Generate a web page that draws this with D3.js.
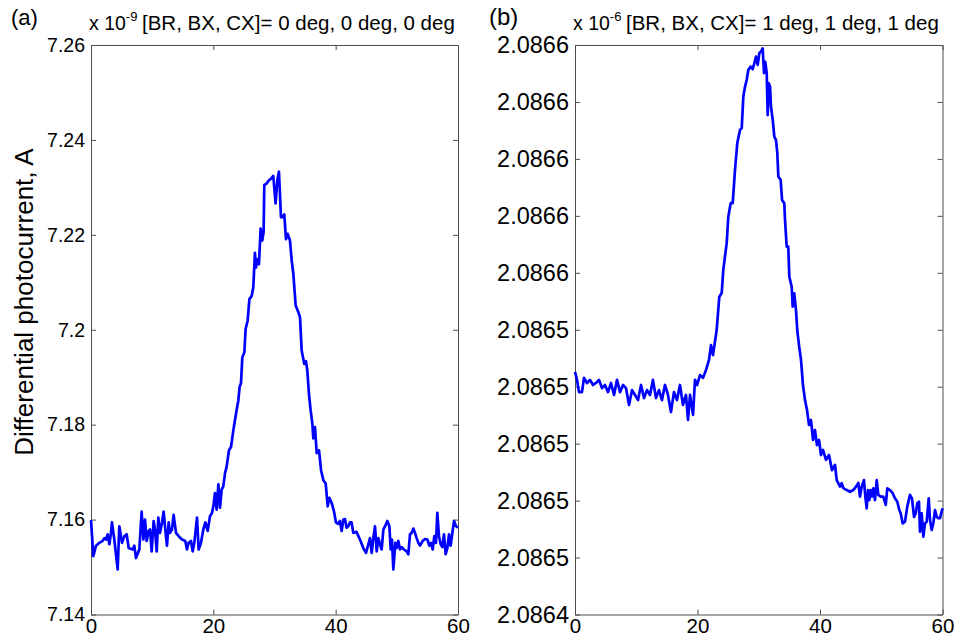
<!DOCTYPE html>
<html><head><meta charset="utf-8">
<script src="https://cdn.jsdelivr.net/npm/d3@7"></script>
<style>
body{margin:0;background:#fff;}
svg text{font-family:"Liberation Sans",Arial,Helvetica,sans-serif;fill:#000;}
</style></head><body>
<svg id="chart" width="954" height="642"></svg>
<script>
// Scan position (x) and differential photocurrent for two angle settings
const seriesA = [[0,7.1599],[0.38,7.1523],[0.82,7.1545],[1.36,7.1551],[1.91,7.1555],[2.18,7.1561],[2.45,7.1558],[2.72,7.1569],[3.0,7.1548],[3.27,7.1572],[3.43,7.1594],[3.81,7.1558],[4.36,7.1495],[4.63,7.1586],[5.07,7.1551],[5.45,7.1565],[5.83,7.1569],[6.16,7.1540],[6.81,7.1537],[7.08,7.1545],[7.36,7.1519],[7.9,7.1537],[8.28,7.1617],[8.56,7.1558],[8.83,7.1600],[9.1,7.1555],[9.43,7.1576],[9.65,7.1579],[9.92,7.1533],[10.24,7.1597],[10.46,7.1579],[10.74,7.1533],[11.01,7.1604],[11.28,7.1572],[11.61,7.1594],[11.88,7.1617],[12.15,7.1579],[12.42,7.1545],[12.7,7.1594],[12.91,7.1572],[13.24,7.1579],[13.51,7.1610],[13.9,7.1572],[14.33,7.1565],[14.88,7.1558],[15.42,7.1555],[15.69,7.1537],[15.97,7.1551],[16.35,7.1555],[16.62,7.1533],[16.89,7.1551],[17.33,7.1604],[17.6,7.1537],[17.98,7.1551],[18.36,7.1579],[18.69,7.1594],[19.07,7.1576],[19.45,7.1607],[19.78,7.1614],[20.0,7.1628],[20.27,7.1656],[20.54,7.1621],[20.82,7.1674],[21.09,7.1625],[21.36,7.1663],[21.63,7.1670],[21.9,7.1697],[22.18,7.1712],[22.56,7.1746],[22.89,7.1753],[23.27,7.1788],[23.54,7.1810],[23.81,7.1831],[24.09,7.1851],[24.3,7.1880],[24.52,7.1887],[24.74,7.1942],[25.07,7.1952],[25.28,7.2002],[25.61,7.2019],[25.9,7.2065],[26.27,7.2071],[26.53,7.2089],[26.8,7.2162],[26.97,7.2131],[27.24,7.2149],[27.46,7.2138],[27.73,7.2213],[28.0,7.2188],[28.22,7.2206],[28.33,7.2305],[28.71,7.2308],[29.08,7.2315],[29.41,7.2318],[29.8,7.2324],[30.18,7.2266],[30.46,7.2315],[30.73,7.2333],[31.06,7.2237],[31.33,7.2237],[31.6,7.2243],[31.88,7.2191],[32.15,7.2202],[32.53,7.2188],[32.81,7.2146],[33.08,7.2118],[33.46,7.2051],[33.9,7.2037],[34.17,7.2026],[34.44,7.1957],[34.55,7.1949],[34.87,7.1928],[35.15,7.1934],[35.37,7.1913],[35.64,7.1864],[35.91,7.1830],[36.19,7.1802],[36.35,7.1771],[36.62,7.1795],[36.9,7.1740],[37.28,7.1746],[37.61,7.1704],[37.99,7.1683],[38.37,7.1676],[38.7,7.1628],[38.97,7.1646],[39.35,7.1635],[39.73,7.1617],[40.05,7.1594],[40.4,7.1591],[40.7,7.1597],[40.98,7.1576],[41.25,7.1600],[41.52,7.1601],[41.79,7.1583],[42.06,7.1586],[42.33,7.1594],[42.6,7.1594],[42.88,7.1572],[43.42,7.1574],[43.97,7.1558],[44.52,7.1540],[44.96,7.1530],[45.34,7.1548],[45.61,7.1561],[45.89,7.1530],[46.16,7.1561],[46.43,7.1586],[46.71,7.1533],[46.98,7.1561],[47.25,7.1548],[47.52,7.1537],[47.8,7.1579],[48.18,7.1589],[48.45,7.1597],[48.78,7.1586],[49.0,7.1537],[49.21,7.1558],[49.43,7.1495],[49.76,7.1551],[49.97,7.1540],[50.25,7.1555],[50.52,7.1537],[50.79,7.1542],[51.17,7.1537],[51.61,7.1533],[51.88,7.1527],[52.15,7.1569],[52.43,7.1572],[52.7,7.1581],[52.97,7.1572],[53.24,7.1561],[53.52,7.1551],[53.79,7.1545],[54.22,7.1555],[54.6,7.1559],[54.99,7.1558],[55.31,7.1545],[55.59,7.1551],[55.86,7.1537],[56.13,7.1565],[56.4,7.1551],[56.62,7.1614],[56.89,7.1565],[57.17,7.1548],[57.44,7.1542],[57.71,7.1569],[57.98,7.1527],[58.26,7.1540],[58.53,7.1569],[58.8,7.1545],[59.08,7.1572],[59.35,7.1597],[59.68,7.1586],[60.0,7.1583]];

const seriesB = [[0,2.0865252],[0.33,2.0865224],[0.65,2.0865181],[1.14,2.0865181],[1.47,2.0865231],[1.96,2.0865213],[2.45,2.0865224],[2.94,2.0865206],[3.43,2.0865213],[3.92,2.0865224],[4.41,2.0865195],[4.9,2.0865206],[5.39,2.0865181],[5.88,2.0865213],[6.37,2.0865171],[6.86,2.0865224],[7.35,2.0865181],[7.84,2.0865206],[8.33,2.0865195],[8.82,2.0865136],[9.31,2.0865188],[9.8,2.0865171],[10.29,2.0865153],[10.78,2.0865206],[11.27,2.086516],[11.76,2.0865188],[12.24,2.0865171],[12.73,2.0865224],[13.22,2.086516],[13.71,2.0865188],[14.2,2.0865153],[14.69,2.0865206],[15.18,2.0865171],[15.67,2.0865111],[16.16,2.0865181],[16.65,2.0865153],[17.14,2.0865206],[17.63,2.0865136],[18.12,2.0865171],[18.45,2.0865083],[18.78,2.0865171],[19.27,2.0865101],[19.59,2.0865224],[19.92,2.0865206],[20.41,2.0865241],[20.9,2.0865231],[21.39,2.0865259],[21.88,2.0865294],[22.2,2.0865346],[22.53,2.0865311],[23.13,2.0865399],[23.56,2.0865516],[23.95,2.0865529],[24.21,2.086561],[24.77,2.0865705],[25.03,2.0865797],[25.42,2.0865845],[25.75,2.0865845],[26.12,2.0865961],[26.5,2.0866056],[26.94,2.0866102],[27.22,2.0866108],[27.48,2.0866218],[27.76,2.0866254],[28.03,2.0866277],[28.29,2.0866312],[28.68,2.0866324],[29.01,2.0866315],[29.27,2.0866336],[29.55,2.0866359],[29.83,2.086633],[30.09,2.0866371],[30.37,2.0866377],[30.64,2.0866388],[30.86,2.0866301],[31.07,2.0866341],[31.3,2.0866301],[31.46,2.0866154],[31.62,2.0866266],[31.84,2.0866254],[32.0,2.0866183],[32.28,2.0866137],[32.54,2.0866078],[32.82,2.0866066],[33.03,2.086602],[33.2,2.0865938],[33.58,2.0865926],[33.8,2.0865856],[34.17,2.0865844],[34.29,2.0865785],[34.56,2.0865692],[34.82,2.0865692],[34.99,2.0865586],[35.38,2.0865551],[35.54,2.0865481],[35.8,2.0865528],[36.08,2.0865469],[36.29,2.0865399],[36.57,2.0865346],[36.9,2.0865294],[37.22,2.0865206],[37.55,2.0865153],[37.88,2.0865118],[38.2,2.0865066],[38.53,2.0865083],[38.86,2.0865013],[39.18,2.0865048],[39.51,2.0864995],[39.84,2.0865013],[40.16,2.086496],[40.49,2.0864978],[40.98,2.0864943],[41.47,2.086496],[41.96,2.0864907],[42.45,2.0864925],[42.73,2.0864872],[43.27,2.0864849],[43.54,2.0864861],[43.81,2.0864844],[44.37,2.0864837],[44.9,2.0864831],[45.44,2.0864837],[45.88,2.0864849],[46.26,2.0864862],[46.53,2.0864814],[46.81,2.0864849],[47.18,2.0864872],[47.4,2.0864814],[47.62,2.0864773],[47.84,2.0864837],[48.05,2.0864802],[48.28,2.0864837],[48.49,2.0864814],[48.71,2.0864843],[48.98,2.0864802],[49.26,2.0864872],[49.52,2.086482],[49.91,2.0864814],[50.33,2.0864814],[50.73,2.0864785],[50.99,2.0864843],[51.43,2.0864837],[51.87,2.0864826],[52.24,2.0864808],[52.62,2.0864796],[52.95,2.0864767],[53.18,2.0864755],[53.5,2.086472],[53.88,2.0864726],[54.25,2.0864779],[54.69,2.086482],[55.02,2.0864808],[55.35,2.0864743],[55.62,2.0864755],[55.89,2.0864791],[56.16,2.0864796],[56.33,2.0864691],[56.6,2.0864755],[56.87,2.0864673],[57.14,2.086472],[57.42,2.0864726],[57.75,2.0864808],[57.96,2.0864732],[58.24,2.0864697],[58.5,2.086472],[58.78,2.0864767],[59.05,2.0864743],[59.31,2.0864738],[59.59,2.0864738],[60,2.0864773]];

const xTicks = [0, 20, 40, 60];
const aTicks = [7.14, 7.16, 7.18, 7.2, 7.22, 7.24, 7.26];
const aTickLabels = ["7.14", "7.16", "7.18", "7.2", "7.22", "7.24", "7.26"];
const bTicks = [2.08644, 2.08646, 2.08648, 2.0865, 2.08652, 2.08654, 2.08656, 2.08658, 2.0866, 2.08662, 2.08664];
const bTickLabels = ["2.0864", "2.0865", "2.0865", "2.0865", "2.0865", "2.0865", "2.0866", "2.0866", "2.0866", "2.0866", "2.0866"];

const svg = d3.select("#chart");
const plotTop = 45, plotBottom = 614.5;

function drawPanel(p) {
  const x = d3.scaleLinear().domain([0, 60]).range([p.left, p.right]);
  const y = d3.scaleLinear().domain([p.ticks[0], p.ticks[p.ticks.length - 1]]).range([plotBottom, plotTop]);
  const g = svg.append("g");

  const styleAxis = size => sel => {
    sel.selectAll("path.domain").attr("stroke", "#4d4d4d").attr("stroke-width", 1);
    sel.selectAll(".tick line").attr("stroke", "#4d4d4d");
    sel.selectAll(".tick text").attr("font-size", size).attr("font-family", "Liberation Sans, Arial, sans-serif").attr("fill", "#000");
  };

  g.append("g").attr("transform", `translate(0,${plotBottom})`)
    .call(d3.axisBottom(x).tickValues(xTicks).tickSize(-5).tickSizeOuter(0).tickPadding(4).tickFormat(d3.format("d")))
    .call(styleAxis(20.5));
  g.append("g").attr("transform", `translate(0,${plotTop})`)
    .call(d3.axisTop(x).tickValues(xTicks).tickSize(-5).tickSizeOuter(0).tickFormat(""))
    .call(styleAxis(20));
  g.append("g").attr("transform", `translate(${p.left},0)`)
    .call(d3.axisLeft(y).tickValues(p.ticks).tickSize(-5).tickSizeOuter(0).tickPadding(6).tickFormat((d, i) => p.labels[i]))
    .call(styleAxis(p.yTickFont));
  g.append("g").attr("transform", `translate(${p.right},0)`)
    .call(d3.axisRight(y).tickValues(p.ticks).tickSize(-5).tickSizeOuter(0).tickFormat(""))
    .call(styleAxis(20));

  const line = d3.line().x(d => x(d[0])).y(d => y(d[1]));
  g.append("path").datum(p.data)
    .attr("fill", "none").attr("stroke", "#0000ff").attr("stroke-width", 2.7)
    .attr("stroke-linejoin", "round").attr("d", line);

  // panel letter
  g.append("text").attr("x", p.letterX).attr("y", 25).attr("font-size", p.letterFont).text(p.letter);
  // exponent marker above the top-left corner
  const ex = g.append("text").attr("x", p.left - 2).attr("y", 30).attr("font-size", 19.5);
  ex.append("tspan").text("x 10");
  ex.append("tspan").attr("dy", -9).attr("font-size", 13).text(p.exponent);
  // title
  g.append("text").attr("x", p.left + 51).attr("y", 30).attr("font-size", 20.5).text(p.title);
}

drawPanel({left: 91, right: 458, ticks: aTicks, labels: aTickLabels, data: seriesA, yTickFont: 19.5,
  letter: "(a)", letterX: 11, letterFont: 22, exponent: "-9", title: "[BR, BX, CX]= 0 deg, 0 deg, 0 deg"});
drawPanel({left: 575, right: 942.5, ticks: bTicks, labels: bTickLabels, data: seriesB, yTickFont: 23.5,
  letter: "(b)", letterX: 489, letterFont: 24, exponent: "-6", title: "[BR, BX, CX]= 1 deg, 1 deg, 1 deg"});

svg.append("text")
  .attr("transform", "translate(33,302) rotate(-90)")
  .attr("text-anchor", "middle").attr("font-size", 26)
  .text("Differential photocurrent, A");
</script>
</body></html>
